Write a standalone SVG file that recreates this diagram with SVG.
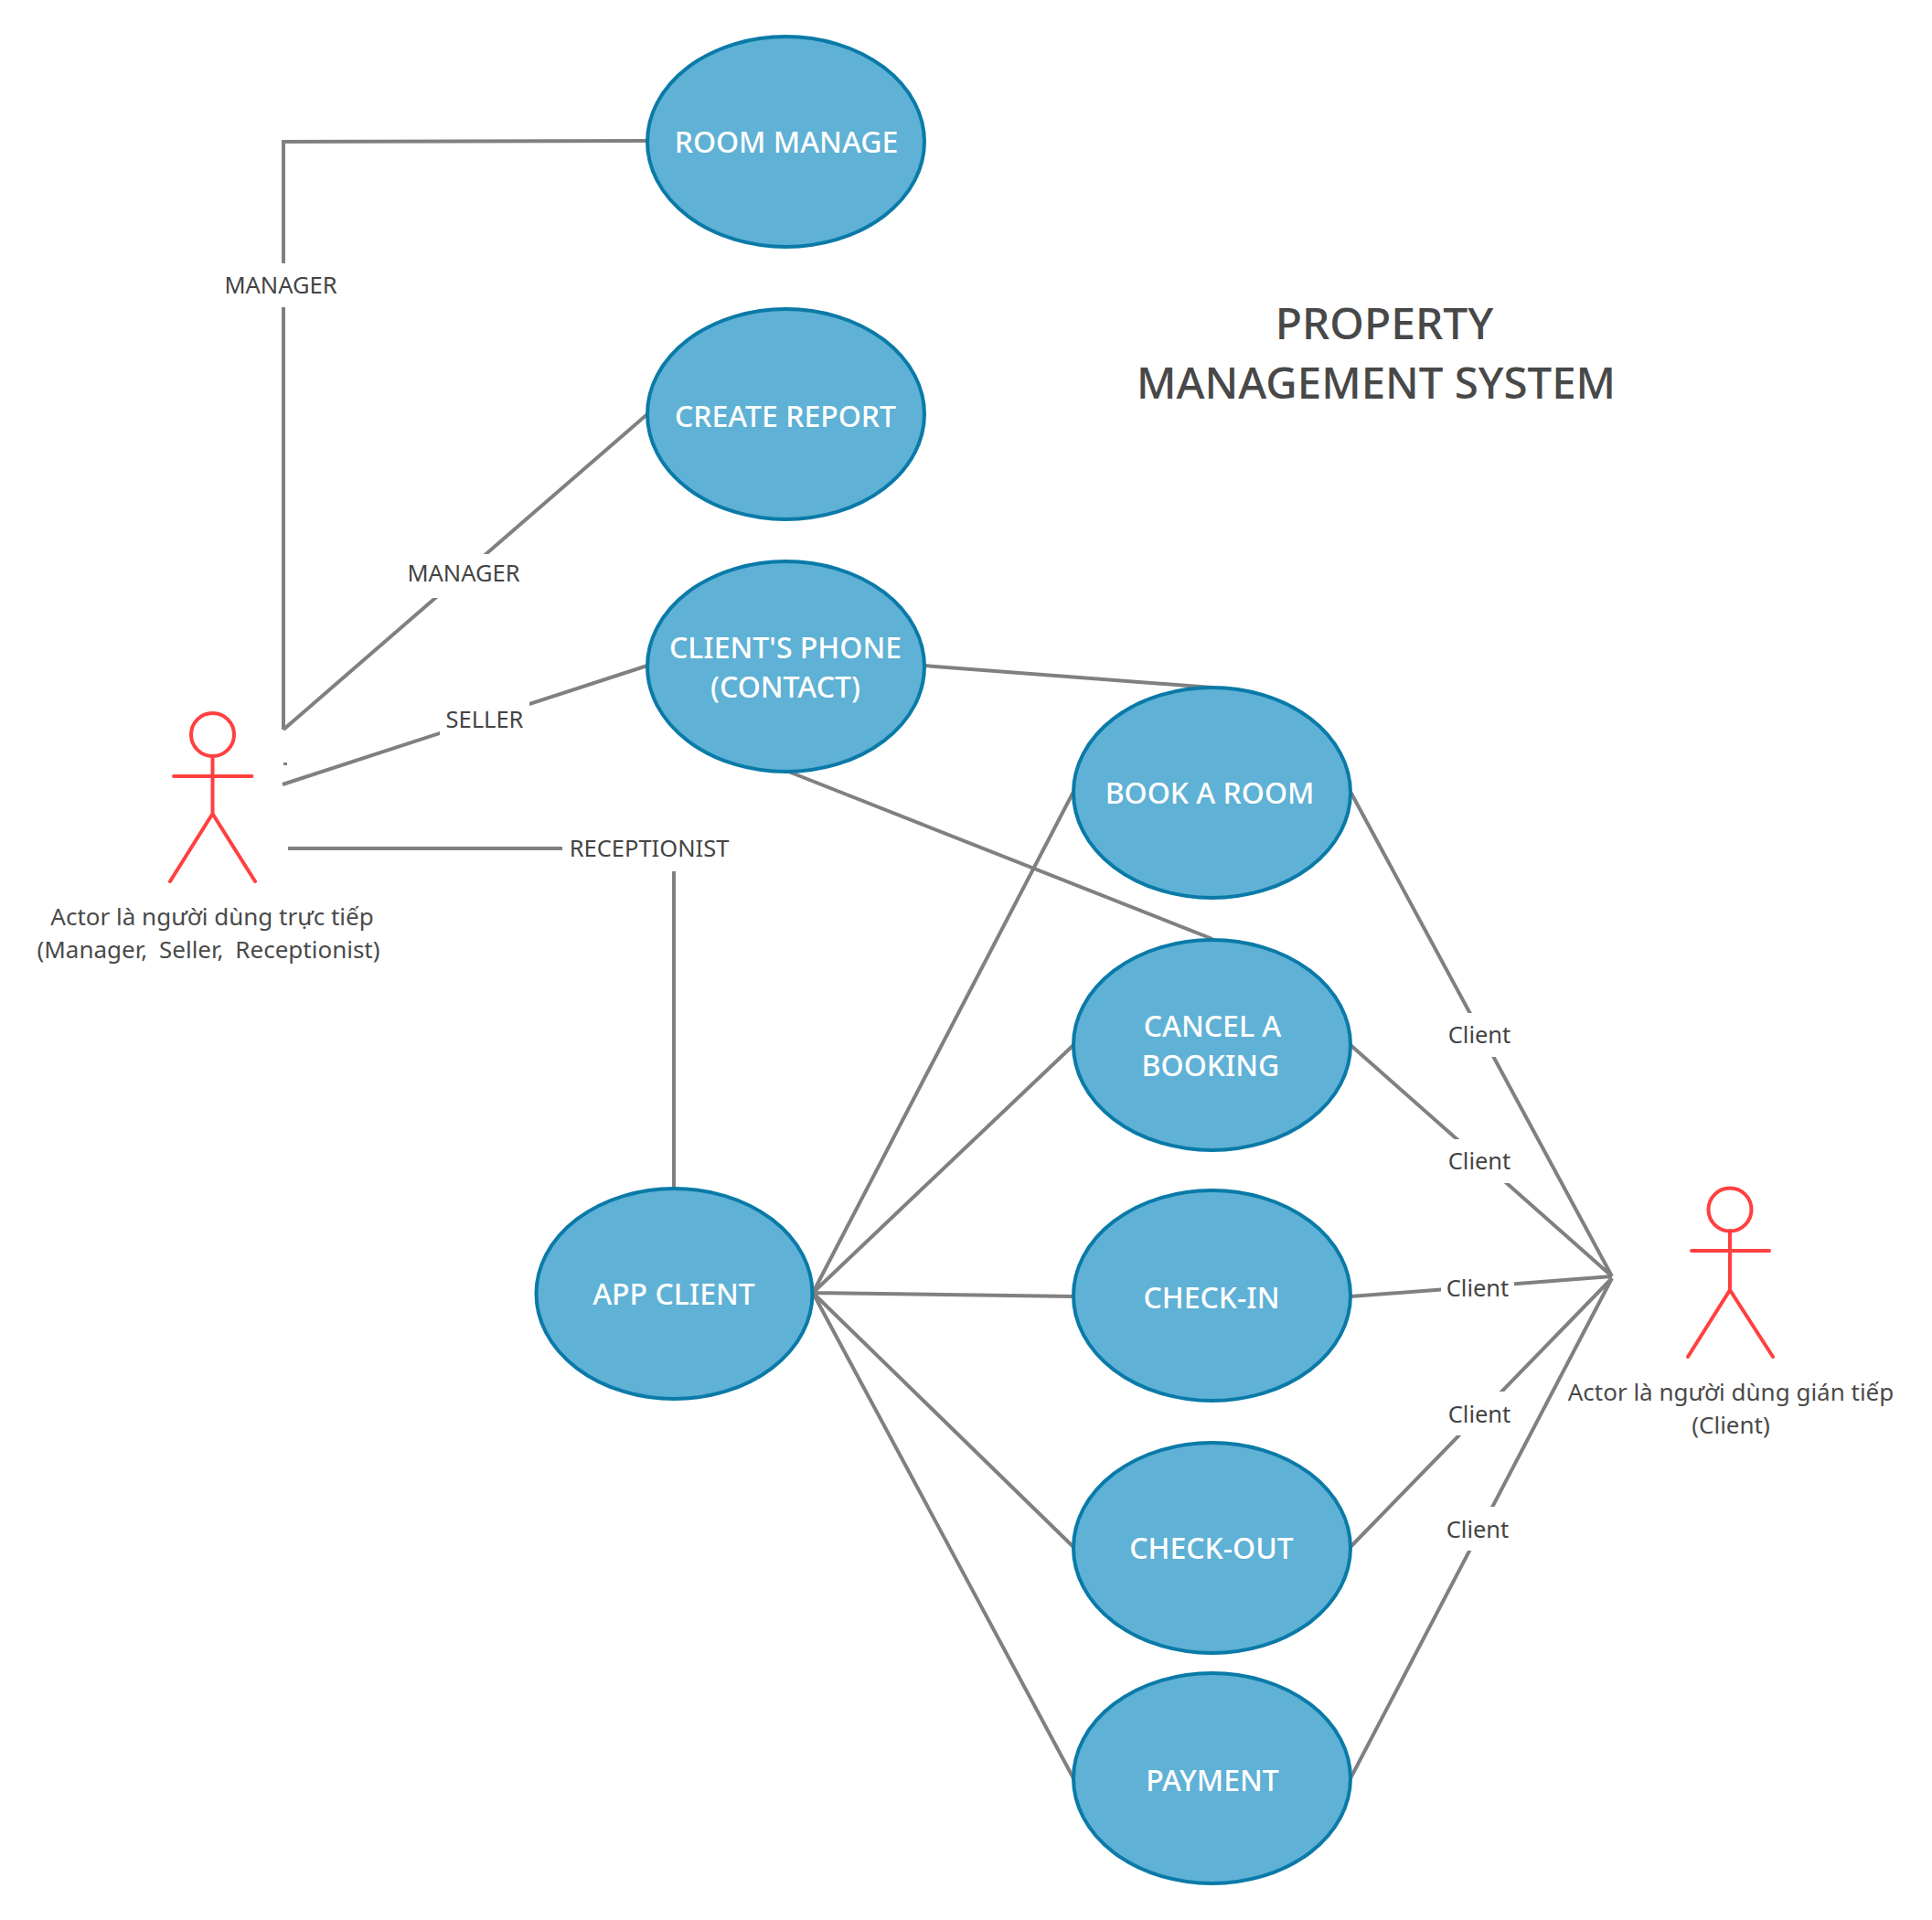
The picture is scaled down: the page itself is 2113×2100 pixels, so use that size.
<svg xmlns="http://www.w3.org/2000/svg" width="2113" height="2100" viewBox="0 0 2113 2100">
<style>
text{font-family:"Noto Sans","Open Sans","DejaVu Sans",sans-serif;text-anchor:middle}
.uc ellipse{fill:#5fb1d5;stroke:#0a7aa8;stroke-width:4}
.uc text{fill:#fff;font-size:32px;font-weight:500}
.c{fill:none;stroke:#808080;stroke-width:4}
.l rect{fill:#fff}
.l text{fill:#444;font-size:25.500px}
.a{fill:none;stroke:#ff4040;stroke-width:4;stroke-linecap:round}
.t{fill:#4a4a4a;font-size:26px}
.h{fill:#484848;font-size:48px;font-weight:500}
</style>
<rect width="2113" height="2100" fill="#fff"/>
<g id="connectors">
<path class="c" d="M708 154L310 155V798"/>
<path class="c" d="M708 453L310 798"/>
<path class="c" d="M708 728L309 858"/>
<path class="c" d="M312 834v3"/>
<path class="c" d="M315 928H737V1300"/>
<path class="c" d="M1011 728L1326 752"/>
<path class="c" d="M860 843L1326 1027"/>
<path class="c" d="M889 1414L1174 866M889 1414L1174 1143M889 1414L1174 1418M889 1414L1174 1692M889 1414L1174 1945"/>
<path class="c" d="M1477 866L1763 1396M1477 1143L1763 1396M1477 1418L1763 1396M1477 1692L1763 1398M1477 1945L1763 1398"/>
<g class="l"><rect x="240" y="288" width="134" height="48"/><text x="307" y="321">MANAGER</text></g>
<g class="l"><rect x="440" y="606" width="134" height="48"/><text x="507" y="636">MANAGER</text></g>
<g class="l"><rect x="481" y="762" width="98" height="48"/><text x="530" y="796">SELLER</text></g>
<g class="l"><rect x="615" y="903" width="189" height="50"/><text x="710" y="937">RECEPTIONIST</text></g>
<g class="l"><rect x="1578" y="1108" width="80" height="48"/><text x="1618" y="1141">Client</text></g>
<g class="l"><rect x="1578" y="1246" width="80" height="48"/><text x="1618" y="1279">Client</text></g>
<g class="l"><rect x="1576" y="1385" width="80" height="48"/><text x="1616" y="1418">Client</text></g>
<g class="l"><rect x="1578" y="1522" width="80" height="48"/><text x="1618" y="1556">Client</text></g>
<g class="l"><rect x="1576" y="1648" width="80" height="48"/><text x="1616" y="1682">Client</text></g>
</g>
<g id="room-manage" class="uc"><ellipse cx="859.500" cy="155" rx="151.500" ry="115"/><text x="860" y="167">ROOM MANAGE</text></g>
<g id="create-report" class="uc"><ellipse cx="859.500" cy="453" rx="151.500" ry="115"/><text x="859" y="467">CREATE REPORT</text></g>
<g id="client-phone" class="uc"><ellipse cx="859.500" cy="729" rx="151.500" ry="115"/><text x="859" y="720">CLIENT'S PHONE</text><text x="859" y="763">(CONTACT)</text></g>
<g id="book" class="uc"><ellipse cx="1325.500" cy="867" rx="151.500" ry="115"/><text x="1323" y="879">BOOK A ROOM</text></g>
<g id="cancel" class="uc"><ellipse cx="1325.500" cy="1143" rx="151.500" ry="115"/><text x="1326" y="1134">CANCEL A</text><text x="1324" y="1177">BOOKING</text></g>
<g id="check-in" class="uc"><ellipse cx="1325.500" cy="1417" rx="151.500" ry="115"/><text x="1325" y="1431">CHECK-IN</text></g>
<g id="check-out" class="uc"><ellipse cx="1325.500" cy="1693" rx="151.500" ry="115"/><text x="1325" y="1705">CHECK-OUT</text></g>
<g id="payment" class="uc"><ellipse cx="1325.500" cy="1945" rx="151.500" ry="115"/><text x="1326" y="1959">PAYMENT</text></g>
<g id="app-client" class="uc"><ellipse cx="737.500" cy="1415" rx="151" ry="115"/><text x="737" y="1427">APP CLIENT</text></g>
<g id="actor-direct"><ellipse class="a" cx="232.500" cy="803.500" rx="23.500" ry="23.500"/><path class="a" d="M232.500 827V890M190 849H275.500M186 964L232.500 890L279 964"/><text class="t" x="232" y="1012">Actor là người dùng trực tiếp</text><text class="t" x="228" y="1048" word-spacing="6">(Manager, Seller, Receptionist)</text></g>
<g id="actor-indirect"><ellipse class="a" cx="1892" cy="1323" rx="23.500" ry="23.500"/><path class="a" d="M1892 1346V1411M1850 1368H1935M1846 1484L1892 1411L1939 1484"/><text class="t" x="1893" y="1532">Actor là người dùng gián tiếp</text><text class="t" x="1893" y="1568">(Client)</text></g>
<g id="title"><text class="h" x="1514" y="371">PROPERTY</text><text class="h" x="1505" y="436" style="font-size:47.400px">MANAGEMENT SYSTEM</text></g>
</svg>
